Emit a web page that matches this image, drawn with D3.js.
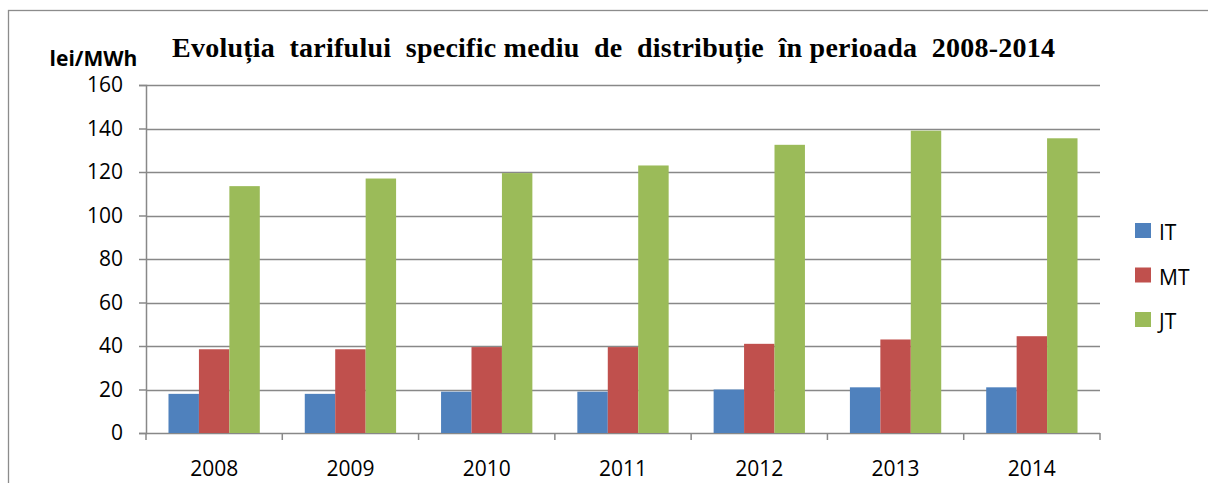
<!DOCTYPE html>
<html>
<head>
<meta charset="utf-8">
<script src="https://cdn.jsdelivr.net/npm/d3@7"></script>
<style>
  body { margin: 0; background: #fff; }
  svg { display: block; }
</style>
</head>
<body>
<div id="chart"></div>
<script>
var years = ['2008', '2009', '2010', '2011', '2012', '2013', '2014'];
var seriesNames = ['IT', 'MT', 'JT'];
var itValues = [18, 18, 19, 19, 20, 21, 21];
var mtValues = [38.5, 38.5, 39.5, 39.5, 41, 43, 44.5];
var jtValues = [113.5, 117, 119.5, 123, 132.5, 139, 135.5];
var yTicks = [0, 20, 40, 60, 80, 100, 120, 140, 160];
var colors = ['#4f81bd', '#c0504d', '#9bbb59'];

var svgWidth = 1208;
var svgHeight = 483;

var margins = { top: 85, left: 146, right: 108, bottom: 50 };
var chartWidth = svgWidth - margins.left - margins.right;
var chartHeight = svgHeight - margins.top - margins.bottom;

var rows = years.map(function(y, i) {
    return { year: y, values: [itValues[i], mtValues[i], jtValues[i]] };
});

var svg = d3.select('#chart')
    .append('svg')
    .attr('width', svgWidth)
    .attr('height', svgHeight);

// outer frame
svg.append('rect')
    .attr('x', 8.5)
    .attr('y', 10.5)
    .attr('width', 1220)
    .attr('height', 500)
    .attr('fill', 'none')
    .attr('stroke', '#8c8c8c')
    .attr('stroke-width', 1.3);

var chartGroup = svg.append('g')
    .attr('transform', `translate(${margins.left}, ${margins.top})`);

// scales
var xScale = d3.scaleBand()
    .domain(years)
    .range([0, chartWidth])
    .paddingInner(0)
    .paddingOuter(0);

var innerScale = d3.scaleBand()
    .domain(seriesNames)
    .range([xScale.bandwidth() * 0.165, xScale.bandwidth() * 0.835]);

var yScale = d3.scaleLinear()
    .domain([0, 160])
    .range([chartHeight, 0]);

// gridlines
chartGroup.selectAll('.grid')
    .data(yTicks)
    .enter()
    .append('line')
    .attr('x1', 0)
    .attr('x2', chartWidth)
    .attr('y1', d => Math.round(yScale(d)) + 0.5)
    .attr('y2', d => Math.round(yScale(d)) + 0.5)
    .attr('stroke', '#888888')
    .attr('stroke-width', 1.5);

// bars
var groups = chartGroup.selectAll('.year')
    .data(rows)
    .enter()
    .append('g')
    .attr('transform', d => `translate(${xScale(d.year)}, 0)`);

groups.selectAll('rect')
    .data(d => d.values.map((v, i) => ({ name: seriesNames[i], value: v, color: colors[i] })))
    .enter()
    .append('rect')
    .attr('x', d => innerScale(d.name))
    .attr('y', d => yScale(d.value))
    .attr('width', innerScale.bandwidth())
    .attr('height', d => chartHeight - yScale(d.value))
    .attr('fill', d => d.color);

// axes
var yAxis = d3.axisLeft(yScale)
    .tickValues(yTicks)
    .tickSize(7)
    .tickPadding(16);

var yAxisG = chartGroup.append('g').call(yAxis);
yAxisG.select('.domain').attr('stroke', '#888888').attr('stroke-width', 1.5);
yAxisG.selectAll('.tick line').attr('stroke', '#888888').attr('stroke-width', 1.5);
yAxisG.selectAll('.tick text')
    .attr('font-family', 'Open Sans, sans-serif')
    .attr('font-size', 21)
    .attr('fill', '#000');

var xAxis = d3.axisBottom(xScale).tickSize(0).tickPadding(28);
var xAxisG = chartGroup.append('g')
    .attr('transform', `translate(0, ${chartHeight})`)
    .call(xAxis);
xAxisG.select('.domain').remove();
xAxisG.selectAll('.tick text')
    .attr('font-family', 'Open Sans, sans-serif')
    .attr('font-size', 21)
    .attr('fill', '#000');

// category separator ticks
chartGroup.selectAll('.xsep')
    .data(years.concat(['end']))
    .enter()
    .append('line')
    .attr('x1', (d, i) => i * xScale.step())
    .attr('x2', (d, i) => i * xScale.step())
    .attr('y1', chartHeight)
    .attr('y2', chartHeight + 7)
    .attr('stroke', '#888888')
    .attr('stroke-width', 1.5);

// title
svg.append('text')
    .attr('x', 613.5)
    .attr('y', 57)
    .attr('text-anchor', 'middle')
    .attr('font-family', 'Liberation Serif, Times New Roman, serif')
    .attr('font-weight', 'bold')
    .attr('font-size', 28)
    .attr('textLength', 883)
    .attr('lengthAdjust', 'spacing')
    .style('white-space', 'pre')
    .text('Evoluția  tarifului  specific mediu  de  distribuție  în perioada  2008-2014');

// unit label
svg.append('text')
    .attr('x', 93.5)
    .attr('y', 66)
    .attr('text-anchor', 'middle')
    .attr('font-family', 'Open Sans, sans-serif')
    .attr('font-weight', 'bold')
    .attr('font-size', 21)
    .text('lei/MWh');

// legend
var legend = svg.append('g')
    .attr('transform', 'translate(1135, 223)');

var legendItems = legend.selectAll('.item')
    .data(seriesNames)
    .enter()
    .append('g')
    .attr('transform', (d, i) => `translate(0, ${i * 44.5})`);

legendItems.append('rect')
    .attr('width', 16)
    .attr('height', 15)
    .attr('fill', (d, i) => colors[i]);

legendItems.append('text')
    .attr('x', 24)
    .attr('y', 17)
    .attr('font-family', 'Open Sans, sans-serif')
    .attr('font-size', 21)
    .text(d => d);
</script>
</body>
</html>
